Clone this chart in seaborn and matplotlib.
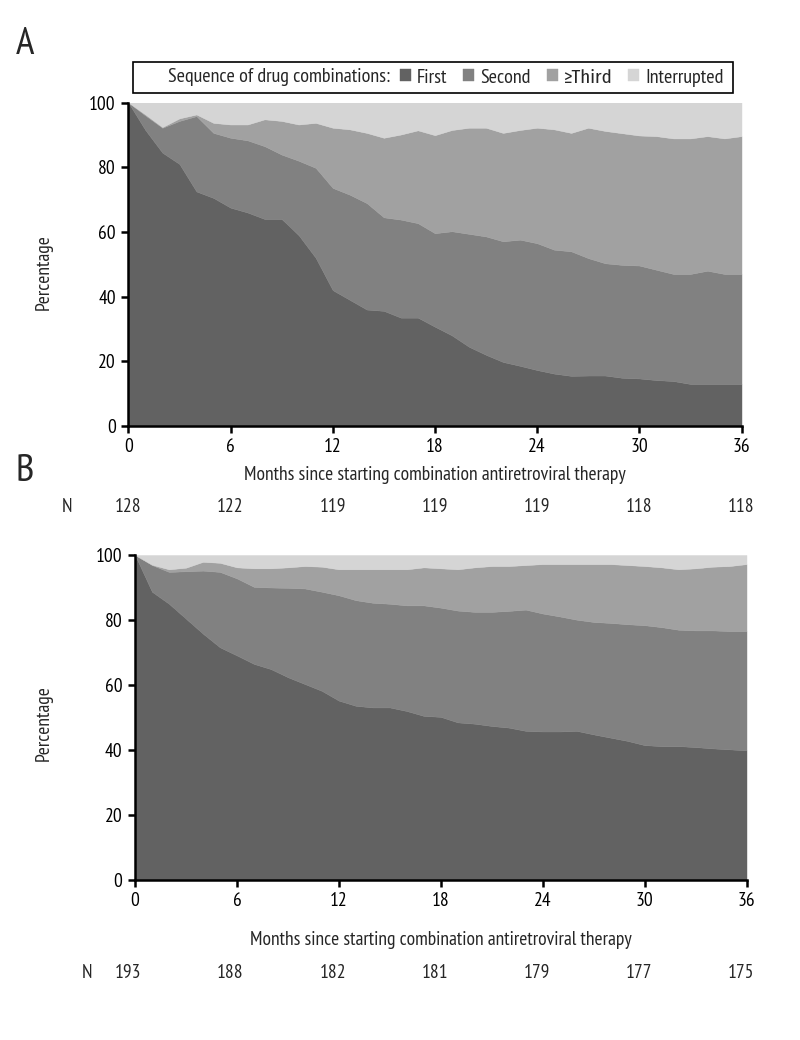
import numpy as np
import matplotlib
matplotlib.use("Agg")
import matplotlib.pyplot as plt
from matplotlib import font_manager as fm
from matplotlib.transforms import blended_transform_factory
from matplotlib.patches import Rectangle
import seaborn as sns

# ---------------- data ----------------
months = list(range(37))
categories = ["First", "Second", "\u2265Third", "Interrupted"]
legend_title = "Sequence of drug combinations:"
x_ticks = [0, 6, 12, 18, 24, 30, 36]
y_ticks = [0, 20, 40, 60, 80, 100]
x_label = "Months since starting combination antiretroviral therapy"
y_label = "Percentage"

# Panel A: cumulative levels (percent)
a_first = [100, 91.5, 84.5, 81, 72.5, 70.5, 67.5, 66, 64, 64, 59, 52, 42, 39, 36, 35.6,
           33.5, 33.5, 30.7, 28, 24.5, 22, 19.8, 18.6, 17.3, 16.2, 15.5, 15.6, 15.6, 14.9,
           14.7, 14.2, 13.9, 13, 13, 13, 13]
a_upto_second = [100, 96, 92.2, 94.3, 95.8, 90.6, 89.1, 88.3, 86.5, 83.9, 82, 79.8, 73.6,
                 71.5, 68.9, 64.5, 63.8, 62.7, 59.6, 60.2, 59.4, 58.6, 57.1, 57.6, 56.5,
                 54.5, 54, 51.9, 50.3, 49.8, 49.6, 48.3, 47, 47, 48, 47, 47]
a_upto_third = [100, 96.3, 92.4, 95.1, 96.3, 93.7, 93.2, 93.2, 94.8, 94.3, 93.2, 93.7, 92.2,
                91.7, 90.6, 89.1, 90.1, 91.4, 89.9, 91.5, 92.2, 92.2, 90.6, 91.5, 92.2,
                91.7, 90.6, 92.2, 91.2, 90.5, 89.8, 89.6, 88.9, 88.9, 89.6, 88.9, 89.6]
a_n = [128, 122, 119, 119, 119, 118, 118]

# Panel B
b_first = [100, 88.7, 85, 80.4, 75.8, 71.6, 69.1, 66.5, 64.9, 62.4, 60.3, 58.2, 55.2, 53.6,
           53.1, 53.1, 52, 50.5, 50.2, 48.5, 48.1, 47.4, 46.9, 45.9, 45.7, 45.7, 45.9, 44.8,
           43.8, 42.8, 41.5, 41.2, 41.2, 40.9, 40.5, 40.2, 39.9]
b_upto_second = [100, 96.9, 94.8, 95, 95.2, 94.8, 92.8, 90.2, 90, 89.9, 89.7, 88.7, 87.6,
                 86.1, 85.3, 85, 84.5, 84.5, 83.8, 82.9, 82.5, 82.5, 82.8, 83.2, 82, 81.1,
                 80.1, 79.4, 79.1, 78.7, 78.4, 77.8, 77, 76.8, 76.8, 76.6, 76.6]
b_upto_third = [100, 97, 95.6, 96.1, 97.9, 97.6, 96.2, 95.9, 95.9, 96.2, 96.6, 96.4, 95.6,
                95.6, 95.6, 95.6, 95.6, 96.2, 95.9, 95.6, 96.2, 96.6, 96.6, 96.9, 97.2,
                97.2, 97.2, 97.2, 97.2, 96.9, 96.6, 96.2, 95.6, 95.9, 96.4, 96.6, 97.2]
b_n = [193, 188, 182, 181, 179, 177, 175]

total = [100] * len(months)
colors = ["#626262", "#818181", "#a1a1a1", "#d5d5d5"]

# ---------------- style ----------------
sns.set_theme(style="ticks")
names = {f.name for f in fm.fontManager.ttflist}
prefs = ["PT Sans Narrow", "Fira Sans Condensed", "Roboto Condensed", "Open Sans Condensed",
         "IBM Plex Sans Condensed", "Asap Condensed", "Archivo Narrow"]
main_font = next((p for p in prefs if p in names), None)
if main_font:
    plt.rcParams["font.family"] = [main_font, "DejaVu Sans"]
else:
    plt.rcParams["font.family"] = ["DejaVu Sans"]
    plt.rcParams["font.stretch"] = "condensed"
sym_font = next((p for p in ["Fira Sans Condensed", "Open Sans Condensed", "DejaVu Sans"]
                 if p in names), "DejaVu Sans")

W, H = 800, 1040
fig = plt.figure(figsize=(W / 100, H / 100), dpi=100)
fig.patch.set_facecolor("white")


def fx(px):
    return px / W


def fy(py):
    return 1 - py / H


def draw_panel(ax, first, upto2, upto3):
    levels = [[0] * len(months), first, upto2, upto3, total]
    handles = []
    for i in range(4):
        h = ax.fill_between(months, levels[i], levels[i + 1], facecolor=colors[i],
                            edgecolor=colors[i], linewidth=0.3, label=categories[i],
                            zorder=1)
        handles.append(h)
    ax.set_xlim(0, 36)
    ax.set_ylim(0, 100)
    ax.set_xticks(x_ticks)
    ax.set_yticks(y_ticks)
    sns.despine(ax=ax)
    for s in ("left", "bottom"):
        ax.spines[s].set_linewidth(1.8)
        ax.spines[s].set_color("black")
    ax.tick_params(axis="both", length=5, width=1.8, labelsize=14, pad=4,
                   direction="out", colors="black")
    return handles


A_l, A_r, A_t, A_b = 128.3, 741.5, 102.5, 426
B_l, B_r, B_t, B_b = 135, 746.5, 555, 880
axA = fig.add_axes([fx(A_l), fy(A_b), (A_r - A_l) / W, (A_b - A_t) / H])
axB = fig.add_axes([fx(B_l), fy(B_b), (B_r - B_l) / W, (B_b - B_t) / H])
handles = draw_panel(axA, a_first, a_upto_second, a_upto_third)
draw_panel(axB, b_first, b_upto_second, b_upto_third)

fs = 14
fig.text(fx(16), fy(44), "A", fontsize=28, ha="left", va="center")
fig.text(fx(16), fy(472), "B", fontsize=28, ha="left", va="center")

fig.text(fx(43.5), fy((A_t + A_b) / 2 + 8), y_label, rotation=90, fontsize=fs,
         ha="center", va="center")
fig.text(fx(43.5), fy((B_t + B_b) / 2 + 6), y_label, rotation=90, fontsize=fs,
         ha="center", va="center")

fig.text(fx((A_l + A_r) / 2), fy(475), x_label, fontsize=fs, ha="center", va="center")
fig.text(fx((B_l + B_r) / 2), fy(940), x_label, fontsize=fs, ha="center", va="center")

# N rows under the month ticks
trA = blended_transform_factory(axA.transData, fig.transFigure)
fig.text(fx(67), fy(507), "N", fontsize=fs, ha="center", va="center")
for m, n in zip(x_ticks, a_n):
    fig.text(m, fy(507), str(n), fontsize=fs, ha="center", va="center", transform=trA)
fig.text(fx(87), fy(973), "N", fontsize=fs, ha="center", va="center")
for m, n in zip(x_ticks, b_n):
    fig.text(m, fy(973), str(n), fontsize=fs, ha="center", va="center", transform=trA)

# legend box with inline title
fig.patches.append(Rectangle((fx(132.7), fy(92.7)), (733 - 132.7) / W, (92.7 - 61.7) / H,
                             transform=fig.transFigure, facecolor="white",
                             edgecolor="black", linewidth=1.2))
fig.text(fx(168), fy(77.5), legend_title, fontsize=14.5, ha="left", va="center")
leg = fig.legend(handles=handles, labels=categories, loc="center left",
                 bbox_to_anchor=(fx(400), fy(77.5)), ncol=4, frameon=False,
                 fontsize=14.5, handlelength=0.55, handleheight=0.55, handletextpad=0.3,
                 columnspacing=0.78, borderpad=0, borderaxespad=0)
leg.get_texts()[2].set_family([sym_font, "DejaVu Sans"])
leg.get_texts()[2].set_fontsize(13.5)

fig.savefig("out.png", dpi=100, facecolor="white")
